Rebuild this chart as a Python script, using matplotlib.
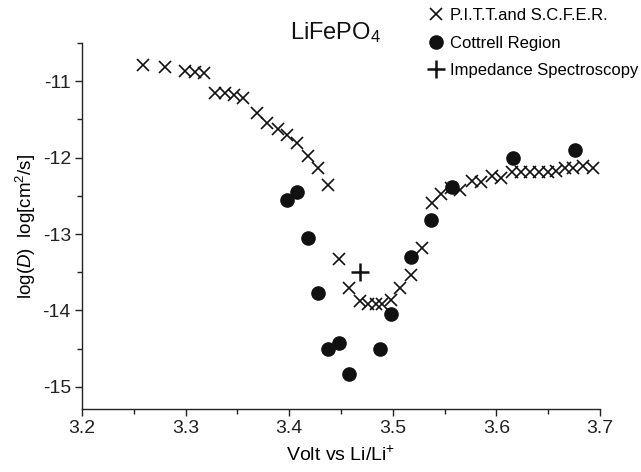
import numpy as np
import matplotlib
matplotlib.use("Agg")
import matplotlib.pyplot as plt
from matplotlib.ticker import MultipleLocator

plt.rcParams["font.family"] = ["Liberation Sans", "DejaVu Sans"]
plt.rcParams["mathtext.fontset"] = "custom"
plt.rcParams["mathtext.rm"] = "Liberation Sans"
plt.rcParams["mathtext.it"] = "Liberation Sans:italic"
plt.rcParams["axes.unicode_minus"] = False

# P.I.T.T. and S.C.F.E.R.
pitt_v = [3.259, 3.280, 3.299, 3.309, 3.318, 3.328, 3.338, 3.347, 3.355,
          3.369, 3.379, 3.389, 3.398, 3.408, 3.418, 3.428, 3.437, 3.448,
          3.458, 3.468, 3.476, 3.484, 3.490, 3.498, 3.507, 3.518, 3.528,
          3.538, 3.547, 3.556, 3.565, 3.576, 3.585, 3.596, 3.604, 3.615,
          3.624, 3.632, 3.641, 3.650, 3.658, 3.666, 3.674, 3.684, 3.693]
pitt_logd = [-10.79, -10.82, -10.86, -10.88, -10.89, -11.16, -11.16, -11.18, -11.22,
             -11.42, -11.55, -11.63, -11.71, -11.81, -11.98, -12.13, -12.36, -13.33,
             -13.71, -13.88, -13.91, -13.92, -13.91, -13.86, -13.70, -13.53, -13.18,
             -12.59, -12.47, -12.40, -12.43, -12.30, -12.32, -12.24, -12.27, -12.19,
             -12.19, -12.19, -12.19, -12.19, -12.18, -12.14, -12.13, -12.11, -12.13]

# Cottrell region
cott_v = [3.398, 3.408, 3.418, 3.428, 3.437, 3.448, 3.458, 3.488, 3.498,
          3.518, 3.537, 3.557, 3.616, 3.676]
cott_logd = [-12.55, -12.45, -13.05, -13.77, -14.50, -14.43, -14.83, -14.50, -14.05,
             -13.30, -12.82, -12.39, -12.01, -11.90]

# Impedance spectroscopy
eis_v = [3.468]
eis_logd = [-13.50]

fig = plt.figure(figsize=(6.41, 4.72), dpi=100)
ax = fig.add_axes([82 / 641, 1 - 409 / 472, 518 / 641, 366 / 472])

ax.plot(pitt_v, pitt_logd, linestyle="none", marker="x", markersize=9,
        markeredgewidth=1.2, color="#111111", label="P.I.T.T.and S.C.F.E.R.")
ax.plot(cott_v, cott_logd, linestyle="none", marker="o", markersize=9.5,
        color="#111111", label="Cottrell Region")
ax.plot(eis_v, eis_logd, linestyle="none", marker="+", markersize=13,
        markeredgewidth=1.8, color="#111111", label="Impedance Spectroscopy")

ax.set_xlim(3.2, 3.7)
ax.set_ylim(-15.29, -10.5)
ax.xaxis.set_major_locator(MultipleLocator(0.1))
ax.xaxis.set_minor_locator(MultipleLocator(0.05))
ax.yaxis.set_major_locator(MultipleLocator(1))
ax.yaxis.set_minor_locator(MultipleLocator(0.5))
ax.xaxis.set_major_formatter(plt.FuncFormatter(lambda v, p: f"{v:.1f}"))
ax.yaxis.set_major_formatter(plt.FuncFormatter(lambda v, p: f"{v:.0f}"))

for side in ["top", "right"]:
    ax.spines[side].set_visible(False)
for side in ["left", "bottom"]:
    ax.spines[side].set_linewidth(1.0)
    ax.spines[side].set_color("#222222")

ax.tick_params(which="major", direction="out", length=5, width=1.0,
               labelsize=14, colors="#222222", pad=3)
ax.tick_params(which="minor", direction="out", length=3.5, width=1.0,
               colors="#222222")

ax.set_xlabel("Volt vs Li/Li$^{+}$", fontsize=14, labelpad=6)
ax.set_ylabel("log($\\mathit{D}$)  log[cm$^{2}$/s]", fontsize=13.5, labelpad=3)

fig.text(290 / 641, 1 - 33 / 472, "LiFePO$_4$", fontsize=17, va="center",
         ha="left", color="#111111")

ax.legend(loc="upper left", bbox_to_anchor=(424 / 641, 0.99),
          bbox_transform=fig.transFigure, frameon=False, fontsize=12,
          numpoints=1, handlelength=1.0, handletextpad=0.35,
          labelspacing=0.75, borderpad=0.2, borderaxespad=0)

fig.savefig("out.png", dpi=100)
